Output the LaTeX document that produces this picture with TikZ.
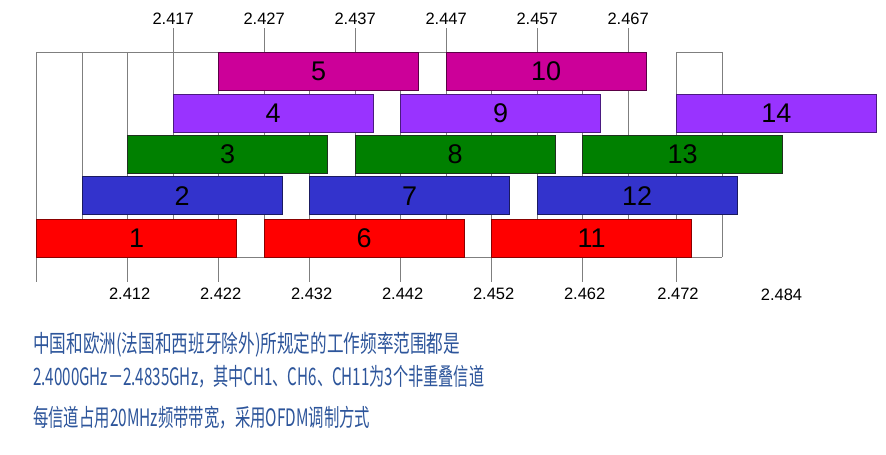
\documentclass[tikz,border=0pt]{standalone}
\usepackage{fontspec}
\usepackage{graphicx}
\setmainfont{Liberation Sans}
\newfontfamily\cjk{Noto Sans CJK SC}
\definecolor{cred}{HTML}{FF0000}\definecolor{bred}{HTML}{8A0000}
\definecolor{cblue}{HTML}{3333CC}\definecolor{bblue}{HTML}{1A1A60}
\definecolor{cgreen}{HTML}{008000}\definecolor{bgreen}{HTML}{203020}
\definecolor{cpurple}{HTML}{9933FF}\definecolor{bpurple}{HTML}{4A1A80}
\definecolor{cmag}{HTML}{CC0099}\definecolor{bmag}{HTML}{5A0045}
\definecolor{gridc}{HTML}{7F7F7F}
\definecolor{txtblue}{RGB}{45,85,155}
\tikzset{
  chbox/.style={draw, line width=0.9pt, minimum width=200pt, minimum height=38pt, inner sep=0pt, font=\fontsize{27}{27}\selectfont},
  r1/.style={chbox, fill=cred, draw=bred},
  r2/.style={chbox, fill=cblue, draw=bblue},
  r3/.style={chbox, fill=cgreen, draw=bgreen},
  r4/.style={chbox, fill=cpurple, draw=bpurple},
  r5/.style={chbox, fill=cmag, draw=bmag},
  gridline/.style={draw=gridc, line width=1.2pt},
  freq/.style={font=\fontsize{16.5}{16.5}\selectfont, inner sep=0pt},
  note/.style={anchor=base west, inner sep=0pt, text=txtblue, font=\cjk\fontsize{24}{24}\selectfont}
}
\begin{document}
\begin{tikzpicture}[x=1pt,y=-1pt]
\useasboundingbox (0,0) rectangle (886,455);
\fill[white] (0,0) rectangle (886,455);
% grid
\foreach \k in {0,...,13}{
  \pgfmathsetmacro{\xx}{36.7+\k*45.5}
  \draw[gridline] (\xx,52.3) -- (\xx,257.3);
}
\draw[gridline] (676.3,52.3) -- (676.3,257.3);
\draw[gridline] (722.3,52.3) -- (722.3,257.3);
\draw[gridline] (36.7,52.3) -- (628.2,52.3);
\draw[gridline] (676.3,52.3) -- (722.3,52.3);
\draw[gridline] (36.7,257.3) -- (722.3,257.3);
% top ticks
\foreach \k/\lab in {3/2.417,5/2.427,7/2.437,9/2.447,11/2.457,13/2.467}{
  \pgfmathsetmacro{\xx}{36.7+\k*45.5}
  \draw[gridline] (\xx,28) -- (\xx,52.3);
  \node[freq] (t\k) at (\xx,18.5) {\lab};
}
% bottom ticks
\foreach \k/\lab in {2/2.412,4/2.422,6/2.432,8/2.442,10/2.452,12/2.462}{
  \pgfmathsetmacro{\xx}{36.7+\k*45.5}
  \draw[gridline] (\xx,257.3) -- (\xx,282);
  \node[freq] (b\k) at (\xx+2,294) {\lab};
}
\draw[gridline] (36.7,257.3) -- (36.7,282);
\draw[gridline] (676.3,257.3) -- (676.3,282);
\node[freq] (b14) at (678,294) {2.472};
\node[freq] (b15) at (781.5,295) {2.484};
% channel boxes
\node[r1] (ch1)  at (136.7,238.2) {1};
\node[r1] (ch6)  at (364.2,238.2) {6};
\node[r1] (ch11) at (591.7,238.2) {11};
\node[r2] (ch2)  at (182.2,195.8) {2};
\node[r2] (ch7)  at (409.7,195.8) {7};
\node[r2] (ch12) at (637.2,195.8) {12};
\node[r3] (ch3)  at (227.7,154.2) {3};
\node[r3] (ch8)  at (455.2,154.2) {8};
\node[r3] (ch13) at (682.7,154.2) {13};
\node[r4] (ch4)  at (273.2,113.3) {4};
\node[r4] (ch9)  at (500.7,113.3) {9};
\node[r4] (ch14) at (776.3,113.3) {14};
\node[r5] (ch5)  at (318.7,71.2) {5};
\node[r5] (ch10) at (546.2,71.2) {10};
% notes
\node[note] (n1) at (33,352) {\resizebox{427pt}{\height}{中国和欧洲(法国和西班牙除外)所规定的工作频率范围都是}};
\node[note] (n2) at (33,385) {\resizebox{451pt}{\height}{2.4000GHz－2.4835GHz，其中CH1、CH6、CH11为3个非重叠信道}};
\node[note] (n3) at (33,426) {\resizebox{337pt}{\height}{每信道占用20MHz频带带宽，采用OFDM调制方式}};
\end{tikzpicture}
\end{document}
